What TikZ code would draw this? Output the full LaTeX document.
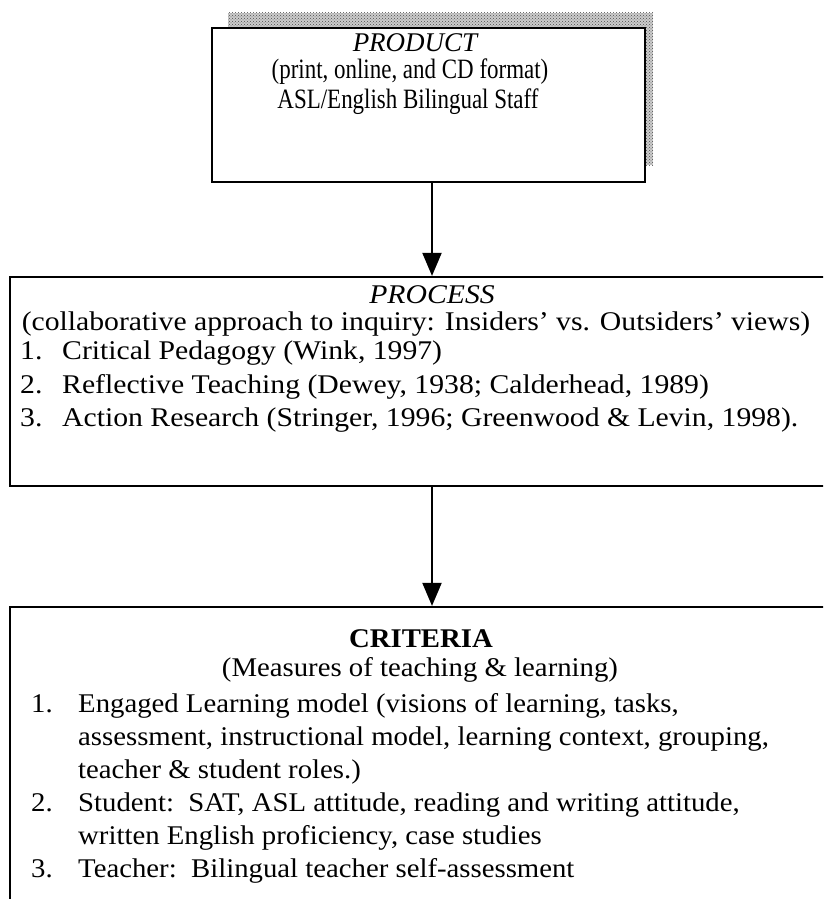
\documentclass[tikz,border=0pt]{standalone}
\usepackage{fontspec}
\setmainfont{Liberation Serif}
\newfontfamily\pdfont[FakeStretch=0.82]{Liberation Serif}
\newfontfamily\prfont[FakeStretch=1.1]{Liberation Serif}
\newfontfamily\crfont[FakeStretch=1.065]{Liberation Serif}
\usetikzlibrary{arrows.meta,patterns}
\begin{document}
\begin{tikzpicture}[x=1pt,y=-1pt,
  boxline/.style={draw=black,line width=2.2pt},
  conn/.style={line width=2pt,-{Triangle[width=19pt,length=23pt]}},
  ptext/.style={inner sep=0pt,font=\pdfont\fontsize{28}{30}\selectfont},
  prtext/.style={inner sep=0pt,font=\prfont\fontsize{27}{33.5}\selectfont},
  crtext/.style={inner sep=0pt,font=\crfont\fontsize{27}{33}\selectfont}]
\clip (0,0) rectangle (823,899);
\fill[white] (0,0) rectangle (823,899);
% shadow of product box
\fill[gray!40] (228,13) rectangle (653,165);
\fill[pattern=crosshatch dots,pattern color=black!70] (228,13) rectangle (653,165);
% product box
\node[boxline,fill=white,minimum width=433pt,minimum height=154pt,inner sep=0pt] (product) at (428.5,105) {};
\node[inner sep=0pt,font=\fontsize{27}{30}\selectfont] (ptitle) at (415,43) {\itshape PRODUCT};
\node[ptext] (pformat) at (410,72) {(print, online, and CD format)};
\node[ptext] (pstaff) at (408,102) {ASL/English Bilingual Staff};
% process box
\node[boxline,minimum width=844pt,minimum height=209pt,inner sep=0pt] (process) at (432,381.5) {};
\node[prtext] (prtitle) at (432,295) {\itshape PROCESS};
\node[prtext] (prsub) at (416,324) {(collaborative approach to inquiry: Insiders’ vs. Outsiders’ views)};
\node[prtext,anchor=north west,align=left] (prlist) at (20,341) {%
\makebox[42pt][l]{1.}Critical Pedagogy (Wink, 1997)\\
\makebox[42pt][l]{2.}Reflective Teaching (Dewey, 1938; Calderhead, 1989)\\
\makebox[42pt][l]{3.}Action Research (Stringer, 1996; Greenwood \& Levin, 1998).};
% criteria box
\node[boxline,minimum width=844pt,minimum height=340pt,inner sep=0pt] (criteria) at (432,777) {};
\node[crtext] (crtitle) at (421,639) {\bfseries CRITERIA};
\node[crtext] (crsub) at (420,670) {(Measures of teaching \& learning)};
\node[crtext,anchor=north west,align=left] (crlist) at (31,693) {%
\makebox[47pt][l]{1.}Engaged Learning model (visions of learning, tasks,\\
\hspace*{47pt}assessment, instructional model, learning context, grouping,\\
\hspace*{47pt}teacher \& student roles.)\\
\makebox[47pt][l]{2.}Student:\ \ SAT, ASL attitude, reading and writing attitude,\\
\hspace*{47pt}written English proficiency, case studies\\
\makebox[47pt][l]{3.}Teacher:\ \ Bilingual teacher self-assessment};
% connectors
\draw[conn] (product.south -| process.north) -- (process.north);
\draw[conn] (process.south) -- (criteria.north);
\end{tikzpicture}
\end{document}
